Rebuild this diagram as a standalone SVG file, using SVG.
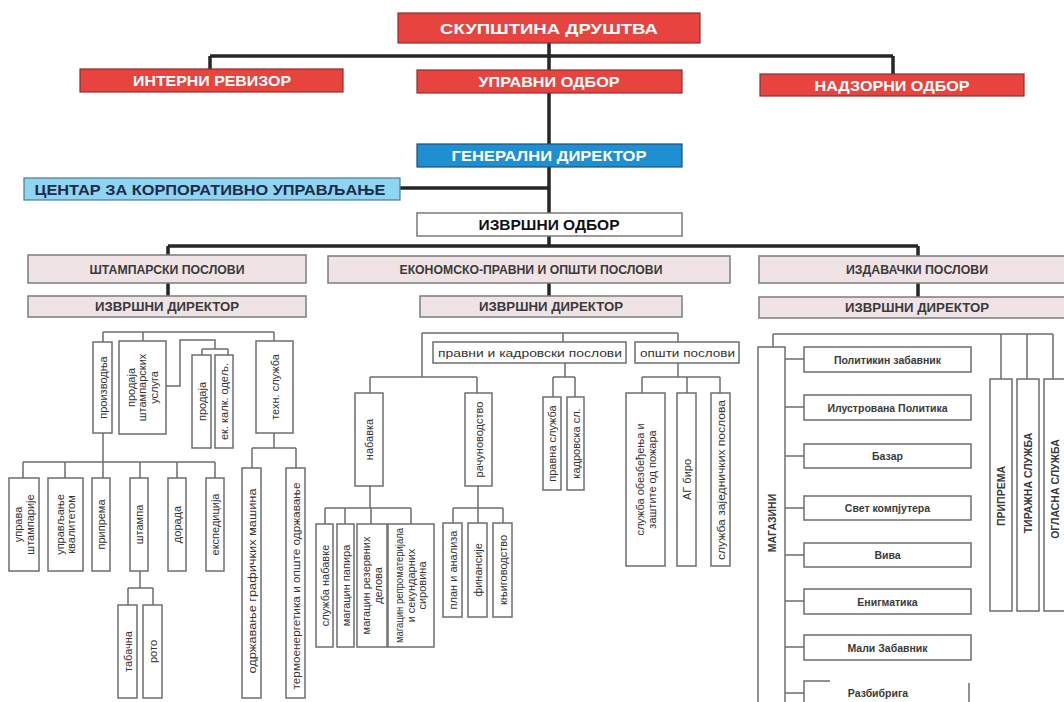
<svg xmlns="http://www.w3.org/2000/svg" width="1064" height="702" viewBox="0 0 1064 702">
<style>
text{font-family:"Liberation Sans",Arial,sans-serif}
.red{fill:#e8443f;stroke:#8c2d2b;stroke-width:1.2}
.rt{fill:#fff;font-size:15px;font-weight:bold;text-anchor:middle}
.pink{fill:#efe3e6;stroke:#7c7c7c;stroke-width:1.5}
.pt{fill:#3a3a3a;font-size:12px;font-weight:bold;text-anchor:middle}
.box{fill:#fff;stroke:#6e6e6e;stroke-width:1.5}
.st{fill:#333;font-size:11px;text-anchor:middle}
.sb{fill:#3a3a3a;font-size:10.5px;font-weight:bold;text-anchor:middle}
.thick{stroke:#262626;stroke-width:3.5;fill:none}
.thin{stroke:#6e6e6e;stroke-width:1.5;fill:none}
</style>
<rect width="1064" height="702" fill="#fff"/>

<g id="connectors">
<path class="thick" d="M549,43V246M210,56H893M210,56V69M893,56V74M400,188H549M168,246H918M168,246V255M918,246V256M168,283V296M549,283V296M918,283V297"/>
<path class="thin" d="M103,332H274M103,332V342M143,332V341M274,332V341M166,386H180V340H215V349M202,349H228M202,349V355M228,349V355M103,433V462M23,462H215M23,462V478M65,462V478M103,462V478M140,462V478M177,462V478M215,462V478M140,571V588M128,588H153M128,588V605M153,588V605M274,433V448M252,448H296M252,448V468M296,448V468"/>
<path class="thin" d="M422,333H678M422,333V377M563,333V342M678,333V342M370,377H477M370,377V393M477,377V393M565,363V377M553,377H575M553,377V397M575,377V397M678,363V377M642,377H720M642,377V393M687,377V393M720,377V393M370,486V508M325,508H411M325,508V524M345,508V524M371,508V524M411,508V524M478,486V508M453,508H503M453,508V523M478,508V523M503,508V523"/>
<path class="thin" d="M773,334H1053M773,334V347M1001,334V379M1027,334V379M1053,334V379M785,359H804M785,407H804M785,456H804M785,508H804M785,555H804M785,601H804M785,647H804M785,693H804"/>
</g>

<g id="skupstina"><rect class="red" x="398" y="13" width="302" height="30"/><text class="rt" x="549" y="34" font-size="17" textLength="218" lengthAdjust="spacingAndGlyphs">СКУПШТИНА ДРУШТВА</text></g>
<g id="interni"><rect class="red" x="80" y="69" width="263" height="23"/><text class="rt" x="212" y="86" textLength="158" lengthAdjust="spacingAndGlyphs">ИНТЕРНИ РЕВИЗОР</text></g>
<g id="upravni"><rect class="red" x="417" y="70" width="265" height="23"/><text class="rt" x="549" y="87" textLength="141" lengthAdjust="spacingAndGlyphs">УПРАВНИ ОДБОР</text></g>
<g id="nadzorni"><rect class="red" x="760" y="74" width="264" height="22"/><text class="rt" x="892" y="91" textLength="155" lengthAdjust="spacingAndGlyphs">НАДЗОРНИ ОДБОР</text></g>
<g id="generalni"><rect x="417" y="144" width="265" height="23" fill="#1e8fd2" stroke="#1a4f7a" stroke-width="1.2"/><text class="rt" x="549" y="161" textLength="195" lengthAdjust="spacingAndGlyphs">ГЕНЕРАЛНИ ДИРЕКТОР</text></g>
<g id="centar"><rect x="24" y="178" width="376" height="22" fill="#8fd4f1" stroke="#4a7a90" stroke-width="1.2"/><text x="210" y="195" fill="#1d2b4d" font-size="15" font-weight="bold" text-anchor="middle" textLength="351" lengthAdjust="spacingAndGlyphs">ЦЕНТАР ЗА КОРПОРАТИВНО УПРАВЉАЊЕ</text></g>
<g id="izvrsni-odbor"><rect x="417" y="213" width="265" height="23" fill="#fff" stroke="#7a7a7a" stroke-width="1.5"/><text x="549" y="230" fill="#111" font-size="15" font-weight="bold" text-anchor="middle" textLength="141" lengthAdjust="spacingAndGlyphs">ИЗВРШНИ ОДБОР</text></g>

<g id="stamparski"><rect class="pink" x="28" y="255" width="278" height="28"/><text class="pt" x="167" y="274" textLength="155" lengthAdjust="spacingAndGlyphs">ШТАМПАРСКИ ПОСЛОВИ</text></g>
<g id="ekonomski"><rect class="pink" x="328" y="256" width="402" height="27"/><text class="pt" x="531" y="274" textLength="263" lengthAdjust="spacingAndGlyphs">ЕКОНОМСКО-ПРАВНИ И ОПШТИ ПОСЛОВИ</text></g>
<g id="izdavacki"><rect class="pink" x="759" y="256" width="310" height="27"/><text class="pt" x="917" y="274" textLength="142" lengthAdjust="spacingAndGlyphs">ИЗДАВАЧКИ ПОСЛОВИ</text></g>
<g id="id-stamparski"><rect class="pink" x="28" y="296" width="278" height="21"/><text class="pt" x="167" y="311" font-size="13" textLength="144" lengthAdjust="spacingAndGlyphs">ИЗВРШНИ ДИРЕКТОР</text></g>
<g id="id-ekonomski"><rect class="pink" x="420" y="296" width="262" height="21"/><text class="pt" x="551" y="311" font-size="13" textLength="144" lengthAdjust="spacingAndGlyphs">ИЗВРШНИ ДИРЕКТОР</text></g>
<g id="id-izdavacki"><rect class="pink" x="759" y="297" width="310" height="21"/><text class="pt" x="917" y="312" font-size="13" textLength="144" lengthAdjust="spacingAndGlyphs">ИЗВРШНИ ДИРЕКТОР</text></g>

<!-- Штампарски -->
<g id="proizvodnja"><rect class="box" x="93" y="342" width="19" height="91"/><text class="st" transform="translate(102.5,387.5) rotate(-90)" y="4">производња</text></g>
<g id="prodaja-usluga"><rect class="box" x="119" y="341" width="47" height="93"/><text class="st" transform="translate(142.5,387.5) rotate(-90)"><tspan x="0" y="-8">продаја</tspan><tspan x="0" y="3.5">штампарских</tspan><tspan x="0" y="15">услуга</tspan></text></g>
<g id="prodaja"><rect class="box" x="192" y="355" width="19" height="93"/><text class="st" transform="translate(201.5,401.5) rotate(-90)" y="4">продаја</text></g>
<g id="ek-kalk"><rect class="box" x="215" y="355" width="18" height="93"/><text class="st" transform="translate(224,401.5) rotate(-90)" y="4">ек. калк. одељ.</text></g>
<g id="tehn-sluzba"><rect class="box" x="256" y="341" width="37" height="92"/><text class="st" transform="translate(274.5,387) rotate(-90)" y="4">техн. служба</text></g>
<g id="uprava"><rect class="box" x="9" y="478" width="30" height="93"/><text class="st" transform="translate(24,524.5) rotate(-90)"><tspan x="0" y="-2">управа</tspan><tspan x="0" y="9.5">штампарије</tspan></text></g>
<g id="kvalitet"><rect class="box" x="48" y="478" width="35" height="93"/><text class="st" transform="translate(65.5,524.5) rotate(-90)"><tspan x="0" y="-2">управљање</tspan><tspan x="0" y="9.5">квалитетом</tspan></text></g>
<g id="priprema-s"><rect class="box" x="92" y="478" width="18" height="93"/><text class="st" transform="translate(101,524.5) rotate(-90)" y="4">припрема</text></g>
<g id="stampa"><rect class="box" x="130" y="478" width="18" height="93"/><text class="st" transform="translate(139,524.5) rotate(-90)" y="4">штампа</text></g>
<g id="dorada"><rect class="box" x="168" y="478" width="18" height="93"/><text class="st" transform="translate(177,524.5) rotate(-90)" y="4">дорада</text></g>
<g id="ekspedicija"><rect class="box" x="206" y="478" width="18" height="93"/><text class="st" transform="translate(215,524.5) rotate(-90)" y="4">експедиција</text></g>
<g id="tabacna"><rect class="box" x="118" y="605" width="19" height="93"/><text class="st" transform="translate(127.5,651.5) rotate(-90)" y="4">табачна</text></g>
<g id="roto"><rect class="box" x="143" y="605" width="19" height="93"/><text class="st" transform="translate(152.5,651.5) rotate(-90)" y="4">рото</text></g>
<g id="odrzavanje"><rect class="box" x="242" y="468" width="19" height="230"/><text class="st" transform="translate(251.5,581) rotate(-90)" y="4" textLength="185" lengthAdjust="spacingAndGlyphs">одржавање графичких машина</text></g>
<g id="termo"><rect class="box" x="286" y="468" width="19" height="230"/><text class="st" transform="translate(295.5,586) rotate(-90)" y="4" textLength="207" lengthAdjust="spacingAndGlyphs">термоенергетика и опште одржавање</text></g>

<!-- Економско -->
<g id="pravni-kadrovski"><rect class="box" x="433" y="342" width="193" height="21"/><text class="st" x="530" y="356.5" textLength="184" lengthAdjust="spacingAndGlyphs">правни и кадровски послови</text></g>
<g id="opsti"><rect class="box" x="635" y="342" width="104" height="21"/><text class="st" x="687.5" y="356.5" textLength="95" lengthAdjust="spacingAndGlyphs">општи послови</text></g>
<g id="nabavka"><rect class="box" x="355" y="393" width="28" height="93"/><text class="st" transform="translate(369,439.5) rotate(-90)" y="4">набавка</text></g>
<g id="racunovodstvo"><rect class="box" x="465" y="393" width="27" height="93"/><text class="st" transform="translate(478.5,439.5) rotate(-90)" y="4">рачуноводство</text></g>
<g id="pravna"><rect class="box" x="543" y="397" width="18" height="93"/><text class="st" transform="translate(552,443.5) rotate(-90)" y="4">правна служба</text></g>
<g id="kadrovska"><rect class="box" x="567" y="397" width="17" height="93"/><text class="st" transform="translate(575.5,443.5) rotate(-90)" y="4">кадровска сл.</text></g>
<g id="obezbedjenje"><rect class="box" x="626" y="393" width="39" height="173"/><text class="st" transform="translate(645.5,479.5) rotate(-90)"><tspan x="0" y="-2">служба обезбеђења и</tspan><tspan x="0" y="10">заштите од пожара</tspan></text></g>
<g id="ag-biro"><rect class="box" x="677" y="393" width="19" height="173"/><text class="st" transform="translate(686.5,479.5) rotate(-90)" y="4">АГ биро</text></g>
<g id="zajednicki"><rect class="box" x="711" y="393" width="19" height="173"/><text class="st" transform="translate(720.5,480) rotate(-90)" y="4" textLength="160" lengthAdjust="spacingAndGlyphs">служба заједничких послова</text></g>
<g id="sluzba-nabavke"><rect class="box" x="316" y="524" width="17" height="123"/><text class="st" transform="translate(324.5,585.5) rotate(-90)" y="4">служба набавке</text></g>
<g id="magacin-papira"><rect class="box" x="337" y="524" width="17" height="123"/><text class="st" transform="translate(345.5,585.5) rotate(-90)" y="4">магацин папира</text></g>
<g id="magacin-rezervnih"><rect class="box" x="357" y="524" width="30" height="123"/><text class="st" transform="translate(372,585.5) rotate(-90)"><tspan x="0" y="-2">магацин резервних</tspan><tspan x="0" y="9.5">делова</tspan></text></g>
<g id="magacin-repro"><rect class="box" x="388" y="524" width="46" height="123"/><text class="st" transform="translate(411,585.5) rotate(-90)"><tspan x="0" y="-8" textLength="115" lengthAdjust="spacingAndGlyphs">магацин репроматеријала</tspan><tspan x="0" y="3.5">и секундарних</tspan><tspan x="0" y="15">сировина</tspan></text></g>
<g id="plan"><rect class="box" x="443" y="523" width="19" height="94"/><text class="st" transform="translate(452.5,570) rotate(-90)" y="4">план и анализа</text></g>
<g id="finansije"><rect class="box" x="468" y="523" width="19" height="94"/><text class="st" transform="translate(477.5,570) rotate(-90)" y="4">финансије</text></g>
<g id="knjigovodstvo"><rect class="box" x="493" y="523" width="19" height="94"/><text class="st" transform="translate(502.5,570) rotate(-90)" y="4">књиговодство</text></g>

<!-- Издавачки -->
<g id="magazini"><rect class="box" x="758" y="347" width="27" height="370"/><text class="sb" transform="translate(771.5,523) rotate(-90)" y="4">МАГАЗИНИ</text></g>
<g id="politikin"><rect class="box" x="804" y="347" width="167" height="25"/><text class="sb" x="887.5" y="363.5">Политикин забавник</text></g>
<g id="ilustrovana"><rect class="box" x="804" y="395" width="167" height="25"/><text class="sb" x="887.5" y="411.5">Илустрована Политика</text></g>
<g id="bazar"><rect class="box" x="804" y="444" width="167" height="24"/><text class="sb" x="887.5" y="460">Базар</text></g>
<g id="svet"><rect class="box" x="804" y="496" width="167" height="24"/><text class="sb" x="887.5" y="512">Свет компјутера</text></g>
<g id="viva"><rect class="box" x="804" y="543" width="167" height="24"/><text class="sb" x="887.5" y="559">Вива</text></g>
<g id="enigmatika"><rect class="box" x="804" y="589" width="167" height="25"/><text class="sb" x="887.5" y="605.5">Енигматика</text></g>
<g id="mali"><rect class="box" x="804" y="635" width="167" height="25"/><text class="sb" x="887.5" y="651.5">Мали Забавник</text></g>
<g id="razbibriga"><path class="thin" d="M830,681H804V710M969,683V710"/><text class="sb" x="878" y="697" font-size="11.5" fill="#2a2a2a">Разбибрига</text></g>
<g id="priprema"><rect class="box" x="990" y="379" width="22" height="232"/><text class="sb" transform="translate(1001,496) rotate(-90)" y="4" font-size="11">ПРИПРЕМА</text></g>
<g id="tirazna"><rect class="box" x="1017" y="379" width="22" height="232"/><text class="sb" transform="translate(1028,483) rotate(-90)" y="4" font-size="11">ТИРАЖНА СЛУЖБА</text></g>
<g id="oglasna"><rect class="box" x="1044" y="379" width="24" height="232"/><text class="sb" transform="translate(1055,489) rotate(-90)" y="4" font-size="11">ОГЛАСНА СЛУЖБА</text></g>
</svg>
